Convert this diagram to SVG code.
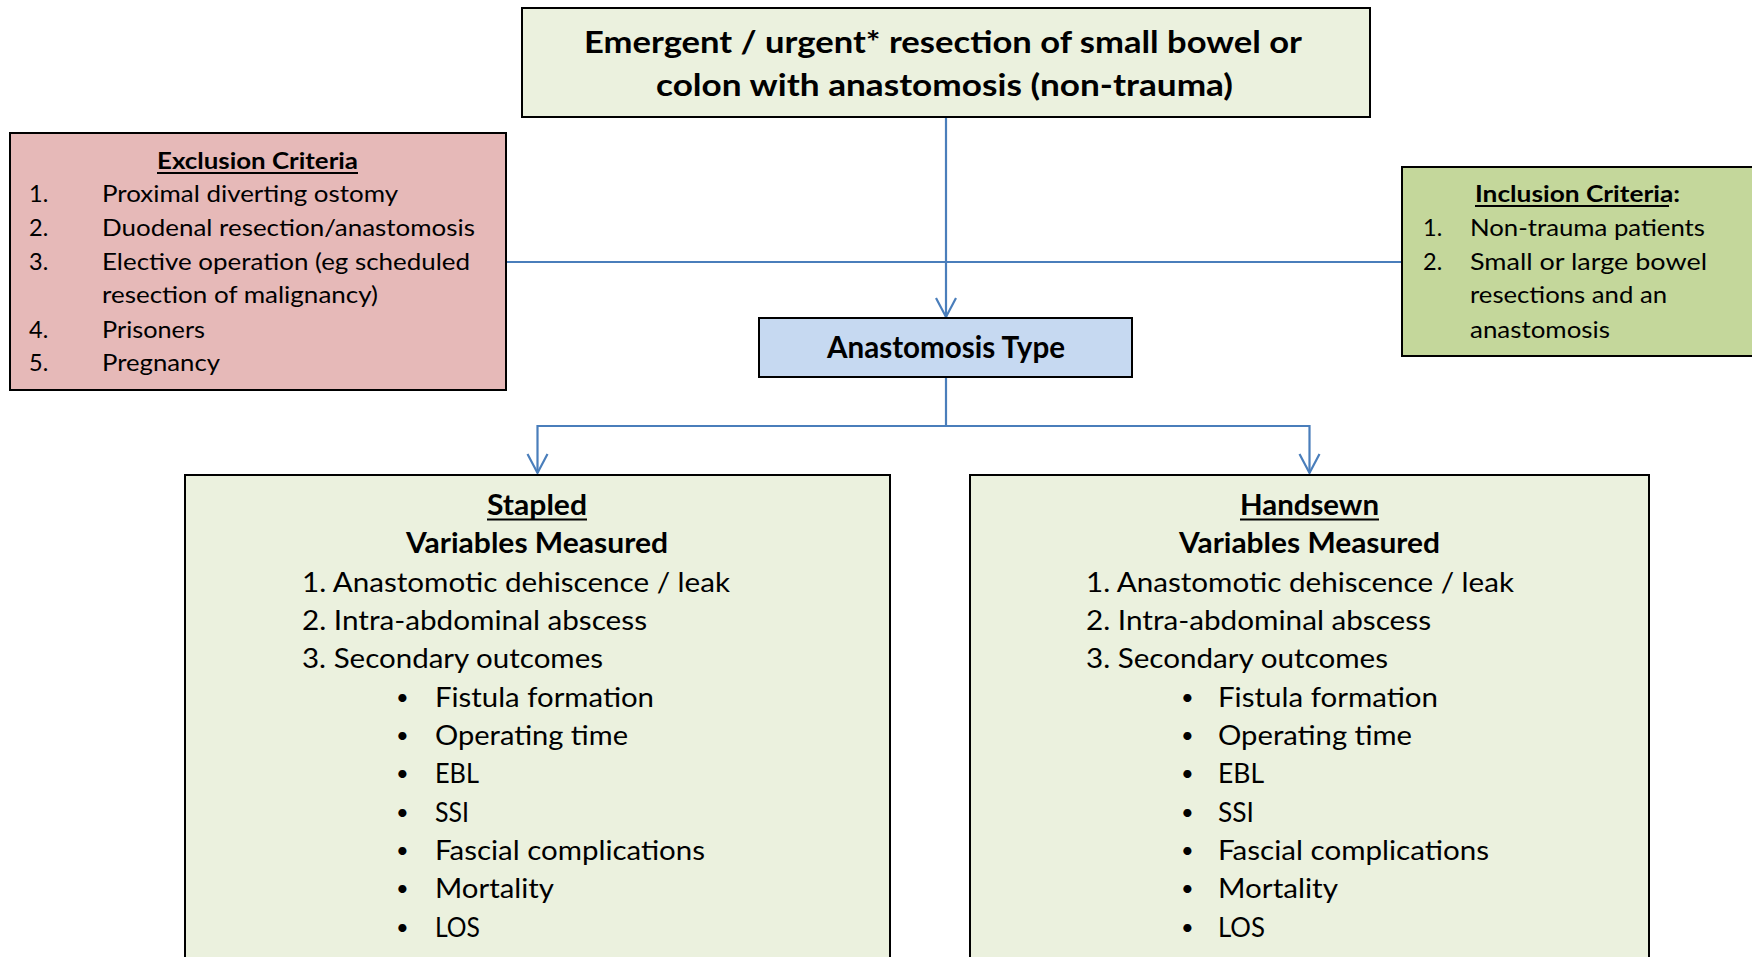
<svg xmlns="http://www.w3.org/2000/svg" width="1752" height="957" viewBox="0 0 1752 957">
<defs>
<style>
.t{font-family:Lato,"Open Sans","Liberation Sans",sans-serif;fill:#000;}
.b{font-weight:bold;}
.box{stroke:#000;stroke-width:2;}
.c{fill:none;stroke:#4a7ebb;stroke-width:2.2;}
.ul{stroke:#000;stroke-width:2;}
.s23{font-size:23.5px;}
.s26{font-size:27px;}
.s28{font-size:29px;}
.s29{font-size:31px;}
.bul{font-size:22px;}
</style>
<marker id="arr" viewBox="-22 -12 24 24" refX="0" refY="0" markerWidth="24" markerHeight="24" markerUnits="userSpaceOnUse" orient="auto" overflow="visible">
<path d="M-19,-10 L0,0 L-19,10" fill="none" stroke="#4a7ebb" stroke-width="2.2"/>
</marker>
</defs>
<rect width="1752" height="957" fill="#fff"/>

<g id="connectors">
<line class="c" x1="506" y1="262" x2="1402" y2="262" stroke-width="1.6"/>
<path class="c" d="M946,117 L946,317" marker-end="url(#arr)"/>
<path class="c" d="M946,377 L946,426 L537.5,426 L537.5,473" marker-end="url(#arr)"/>
<path class="c" d="M946,426 L1309.5,426 L1309.5,473" marker-end="url(#arr)"/>
</g>

<g id="top">
<rect class="box" x="522" y="8" width="848" height="109" fill="#ebf1de"/>
<text class="t b s29" x="584" y="53" textLength="718" lengthAdjust="spacingAndGlyphs">Emergent / urgent* resection of small bowel or</text>
<text class="t b s29" x="656" y="96" textLength="577" lengthAdjust="spacingAndGlyphs">colon with anastomosis (non-trauma)</text>
</g>

<g id="exclusion">
<rect class="box" x="10" y="133" width="496" height="257" fill="#e6b9b8"/>
<text class="t b s23" x="157" y="169" textLength="201" lengthAdjust="spacingAndGlyphs">Exclusion Criteria</text>
<line class="ul" x1="157" y1="173" x2="358" y2="173"/>
<text class="t s23" x="29" y="202">1.</text>
<text class="t s23" x="102" y="202" textLength="296" lengthAdjust="spacingAndGlyphs">Proximal diverting ostomy</text>
<text class="t s23" x="29" y="236">2.</text>
<text class="t s23" x="102" y="236" textLength="373" lengthAdjust="spacingAndGlyphs">Duodenal resection/anastomosis</text>
<text class="t s23" x="29" y="269.5">3.</text>
<text class="t s23" x="102" y="269.5" textLength="368" lengthAdjust="spacingAndGlyphs">Elective operation (eg scheduled</text>
<text class="t s23" x="102" y="303" textLength="276" lengthAdjust="spacingAndGlyphs">resection of malignancy)</text>
<text class="t s23" x="29" y="337.5">4.</text>
<text class="t s23" x="102" y="337.5" textLength="103" lengthAdjust="spacingAndGlyphs">Prisoners</text>
<text class="t s23" x="29" y="371">5.</text>
<text class="t s23" x="102" y="371" textLength="118" lengthAdjust="spacingAndGlyphs">Pregnancy</text>
</g>

<g id="inclusion">
<rect class="box" x="1402" y="167" width="362" height="189" fill="#c4d79b"/>
<text class="t b s23" x="1475" y="202" textLength="205" lengthAdjust="spacingAndGlyphs">Inclusion Criteria:</text>
<line class="ul" x1="1475" y1="206" x2="1669" y2="206"/>
<text class="t s23" x="1423" y="236">1.</text>
<text class="t s23" x="1470" y="236" textLength="235" lengthAdjust="spacingAndGlyphs">Non-trauma patients</text>
<text class="t s23" x="1423" y="269.5">2.</text>
<text class="t s23" x="1470" y="269.5" textLength="237" lengthAdjust="spacingAndGlyphs">Small or large bowel</text>
<text class="t s23" x="1470" y="303" textLength="197" lengthAdjust="spacingAndGlyphs">resections and an</text>
<text class="t s23" x="1470" y="337.5" textLength="140" lengthAdjust="spacingAndGlyphs">anastomosis</text>
</g>

<g id="anastomosis-type">
<rect class="box" x="759" y="318" width="373" height="59" fill="#c6d9f1"/>
<text class="t b s29" x="827" y="358" textLength="238" lengthAdjust="spacingAndGlyphs">Anastomosis Type</text>
</g>

<g id="stapled">
<rect class="box" x="185" y="475" width="705" height="500" fill="#ebf1de"/>
<text class="t b s28" x="487" y="515" textLength="100" lengthAdjust="spacingAndGlyphs">Stapled</text>
<line class="ul" x1="487" y1="519.5" x2="587" y2="519.5"/>
<text class="t b s28" x="406" y="553" textLength="262" lengthAdjust="spacingAndGlyphs">Variables Measured</text>
<text class="t s26" x="302" y="592" textLength="428" lengthAdjust="spacingAndGlyphs">1. Anastomotic dehiscence / leak</text>
<text class="t s26" x="302" y="630" textLength="345" lengthAdjust="spacingAndGlyphs">2. Intra-abdominal abscess</text>
<text class="t s26" x="302" y="668" textLength="301" lengthAdjust="spacingAndGlyphs">3. Secondary outcomes</text>
<g class="t s26">
<text class="bul" x="396" y="705">•</text><text x="435" y="707" textLength="219" lengthAdjust="spacingAndGlyphs">Fistula formation</text>
<text class="bul" x="396" y="743">•</text><text x="435" y="745" textLength="193" lengthAdjust="spacingAndGlyphs">Operating time</text>
<text class="bul" x="396" y="781">•</text><text x="435" y="783" textLength="44" lengthAdjust="spacingAndGlyphs">EBL</text>
<text class="bul" x="396" y="820">•</text><text x="435" y="822" textLength="34" lengthAdjust="spacingAndGlyphs">SSI</text>
<text class="bul" x="396" y="858">•</text><text x="435" y="860" textLength="270" lengthAdjust="spacingAndGlyphs">Fascial complications</text>
<text class="bul" x="396" y="896">•</text><text x="435" y="898" textLength="119" lengthAdjust="spacingAndGlyphs">Mortality</text>
<text class="bul" x="396" y="935">•</text><text x="435" y="937" textLength="45" lengthAdjust="spacingAndGlyphs">LOS</text>
</g>
</g>

<g id="handsewn">
<rect class="box" x="970" y="475" width="679" height="500" fill="#ebf1de"/>
<text class="t b s28" x="1240" y="515" textLength="139" lengthAdjust="spacingAndGlyphs">Handsewn</text>
<line class="ul" x1="1240" y1="519.5" x2="1379" y2="519.5"/>
<text class="t b s28" x="1179" y="553" textLength="261" lengthAdjust="spacingAndGlyphs">Variables Measured</text>
<text class="t s26" x="1086" y="592" textLength="428" lengthAdjust="spacingAndGlyphs">1. Anastomotic dehiscence / leak</text>
<text class="t s26" x="1086" y="630" textLength="345" lengthAdjust="spacingAndGlyphs">2. Intra-abdominal abscess</text>
<text class="t s26" x="1086" y="668" textLength="302" lengthAdjust="spacingAndGlyphs">3. Secondary outcomes</text>
<g class="t s26">
<text class="bul" x="1181" y="705">•</text><text x="1218" y="707" textLength="220" lengthAdjust="spacingAndGlyphs">Fistula formation</text>
<text class="bul" x="1181" y="743">•</text><text x="1218" y="745" textLength="194" lengthAdjust="spacingAndGlyphs">Operating time</text>
<text class="bul" x="1181" y="781">•</text><text x="1218" y="783" textLength="46" lengthAdjust="spacingAndGlyphs">EBL</text>
<text class="bul" x="1181" y="820">•</text><text x="1218" y="822" textLength="36" lengthAdjust="spacingAndGlyphs">SSI</text>
<text class="bul" x="1181" y="858">•</text><text x="1218" y="860" textLength="271" lengthAdjust="spacingAndGlyphs">Fascial complications</text>
<text class="bul" x="1181" y="896">•</text><text x="1218" y="898" textLength="120" lengthAdjust="spacingAndGlyphs">Mortality</text>
<text class="bul" x="1181" y="935">•</text><text x="1218" y="937" textLength="47" lengthAdjust="spacingAndGlyphs">LOS</text>
</g>
</g>
</svg>
